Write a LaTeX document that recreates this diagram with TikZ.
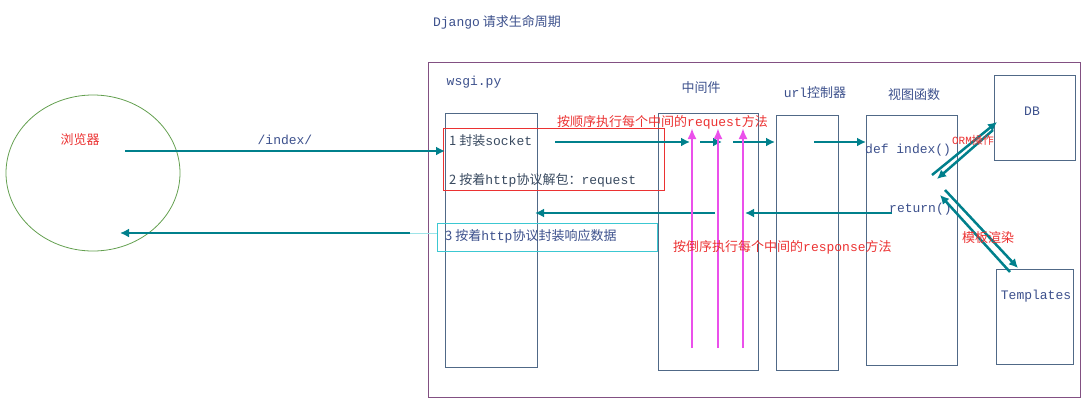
\documentclass[tikz,border=0pt]{standalone}
\usepackage{fontspec}
\setmainfont{Noto Sans CJK SC}
\setmonofont{Liberation Mono}
\usetikzlibrary{arrows.meta}
\definecolor{boxc}{RGB}{80,105,135}
\definecolor{flow}{RGB}{0,128,140}
\definecolor{note}{RGB}{235,50,50}
\definecolor{mag}{RGB}{235,80,235}
\definecolor{txt}{RGB}{60,80,140}
\definecolor{cyanbox}{RGB}{60,200,210}
\begin{document}
\begin{tikzpicture}[x=1pt,y=-1pt,
	every node/.style={font=\fontsize{13}{14}\selectfont, text=txt, inner sep=1pt},
	col/.style={draw=boxc, thick},
	note/.style={text=note},
	flowarr/.style={draw=flow, line width=2.5pt, -{Latex[length=9pt,width=9pt]}},
	upper/.style={draw=mag, line width=2.5pt, -{Latex[length=11pt,width=9pt]}}
]
	\useasboundingbox (0,0) rectangle (1087,402);
	\node (title) at (497,22) {\texttt{Django} 请求生命周期};
	\draw[draw={rgb,255:red,100;green,160;blue,80}, thick] (93,173) ellipse (87 and 78);
	\node (browser) [note] at (80,140) {浏览器};
	\draw[draw={rgb,255:red,130;green,80;blue,130}, thick] (428,62) rectangle (1080,397);
	\draw[col] (445,113) rectangle (537,367);
	\draw[col] (658,113) rectangle (758,370);
	\draw[col] (776,115) rectangle (838,370);
	\draw[col] (866,115) rectangle (957,365);
	\draw[col] (994,75) rectangle (1075,160);
	\draw[col] (996,269) rectangle (1073,364);
	\node (wsgi) at (474,82) {\texttt{wsgi.py}};
	\node (mid) at (701,88) {中间件};
	\node (url) at (815,93) {\texttt{url}控制器};
	\node (view) at (914,95) {视图函数};
	\node (db) at (1032,111) {\texttt{DB}};
	\node (tpl) at (1036,296) {\texttt{Templates}};
	\draw[draw=note, thick] (443,128) rectangle (664,190);
	\draw[draw=cyanbox, thick] (437,223) rectangle (657,251);
	\node (step1) [anchor=west, text=boxc!70!black] at (448,141) {1 封装\texttt{socket}};
	\node (step2) [anchor=west, text=boxc!70!black] at (448,180) {2 按着\texttt{http}协议解包：\texttt{request}};
	\node (step3) [anchor=west] at (444,236) {3 按着\texttt{http}协议封装响应数据};
	\coordinate (bout) at (125,151);
	\coordinate (bin) at (120,233);
	\coordinate (rin) at (445,151);
	\draw[flowarr] (bout) -- (rin) node[midway, above=4pt] {\texttt{/index/}};
	\draw[flowarr] (555,142) -- (690,142);
	\draw[flowarr] (700,142) -- (722,142);
	\draw[flowarr] (733,142) -- (775,142);
	\draw[flowarr] (814,142) -- (866,142);
	\node (def) [anchor=west] at (864,150) {\texttt{def index()}};
	\node (ret) [anchor=west] at (888,209) {\texttt{return()}};
	\draw[flowarr] (892,213) -- (745,213);
	\draw[flowarr] (715,213) -- (535,213);
	\draw[draw=cyanbox!50, thin] (437,233) -- (410,233);
	\draw[flowarr] (410,233) -- (bin);
	\foreach \x in {692,718,743}
		\draw[upper] (\x,348) -- (\x,128);
	\node (reqnote) [note, anchor=west] at (556,122) {按顺序执行每个中间的\texttt{request}方法};
	\node (respnote) [note, anchor=west] at (672,247) {按倒序执行每个中间的\texttt{response}方法};
	\draw[flowarr] (932,175) -- (997,122);
	\draw[flowarr] (993,130) -- (937,179);
	\node (orm) [note, font=\fontsize{11}{12}\selectfont] at (973,140) {\texttt{ORM}操作};
	\draw[flowarr] (945,190) -- (1018,268);
	\draw[flowarr] (1010,272) -- (940,195);
	\node (render) [note] at (988,238) {模板渲染};
\end{tikzpicture}
\end{document}
